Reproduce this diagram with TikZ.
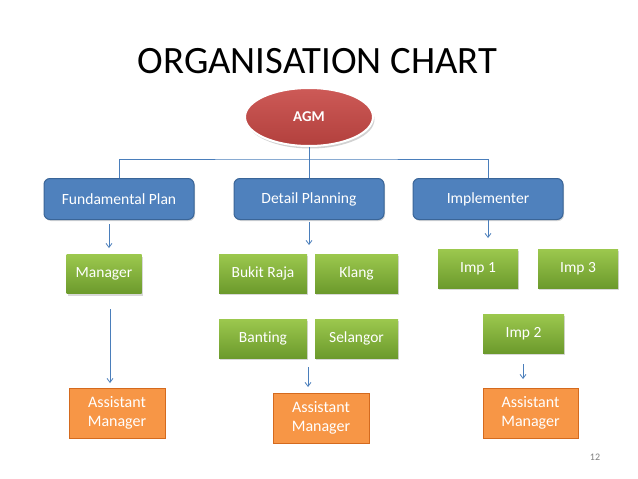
\documentclass[tikz,border=0pt]{standalone}
\usepackage{fontspec}
\setmainfont{Carlito}[Ligatures={NoCommon}]
\usetikzlibrary{shapes.geometric,shadows,arrows.meta}
\definecolor{bluefill}{HTML}{4F81BD}
\definecolor{blueedge}{HTML}{3A6598}
\definecolor{linec}{HTML}{4A7EBB}
\definecolor{greentop}{HTML}{9CC84E}
\definecolor{greenbot}{HTML}{6C9A2C}
\definecolor{orangefill}{HTML}{F79646}
\definecolor{orangeedge}{HTML}{D46A1E}
\definecolor{redtop}{HTML}{CD5A57}
\definecolor{redbot}{HTML}{B2403D}
\begin{document}
\begin{tikzpicture}[x=1pt,y=-1pt,
  bluebox/.style={draw=blueedge,line width=1pt,fill=bluefill,rounded corners=6pt,
    minimum width=150pt,minimum height=41pt,text=white,font=\fontsize{15.6}{18}\selectfont,
    drop shadow={shadow xshift=1pt,shadow yshift=-1.5pt,opacity=0.3}},
  greenbox/.style={top color=greentop,bottom color=greenbot,draw=none,
    minimum height=39pt,text=white,font=\fontsize{15.5}{18}\selectfont,
    drop shadow={shadow xshift=1pt,shadow yshift=-2pt,opacity=0.3}},
  orangebox/.style={draw=orangeedge,line width=1pt,fill=orangefill,minimum width=96pt,
    minimum height=50pt,text=white,align=center,font=\fontsize{16}{19.5}\selectfont},
  conn/.style={draw=linec,line width=0.8pt},
  arr/.style={conn,-{Straight Barb[length=4pt,width=6pt]}}]
\useasboundingbox (0,0) rectangle (638,479);
\fill[white] (0,0) rectangle (638,479);
\node (title) at (317.5,61) {\fontsize{38.7}{42}\selectfont ORGANISATION CHART};
\node[ellipse,draw=white,line width=2pt,top color=redtop,bottom color=redbot,
  minimum width=128pt,minimum height=58pt,text=white,
  font=\fontsize{15}{17}\selectfont\bfseries,
  drop shadow={shadow xshift=1.5pt,shadow yshift=-2.5pt,opacity=0.35}] (agm) at (309,117) {AGM};
\node[bluebox] (fund) at (119,199) {Fundamental Plan};
\node[bluebox] (det) at (309,199) {Detail Planning};
\node[bluebox] (imp) at (488,199) {Implementer};
\coordinate (bus) at (309,159);
\draw[conn] (agm.south) -- (det.north);
\draw[conn] (fund.north) |- (bus) -| (imp.north);
% green
\node[greenbox,minimum width=75pt] (man) at (104,274) {Manager};
\node[greenbox,minimum width=88pt] (bukit) at (263,273.5) {Bukit Raja};
\node[greenbox,minimum width=83pt] (klang) at (356.5,273.5) {Klang};
\node[greenbox,minimum width=88pt] (bant) at (263,338.5) {Banting};
\node[greenbox,minimum width=83pt] (sel) at (356.5,338.5) {Selangor};
\node[greenbox,minimum width=80pt] (imp1) at (478,268.5) {Imp 1};
\node[greenbox,minimum width=80pt] (imp3) at (578,268.5) {Imp 3};
\node[greenbox,minimum width=81pt] (imp2) at (523.5,333.5) {Imp 2};
% orange
\node[orangebox] (am1) at (117,413) {Assistant\\Manager};
\node[orangebox] (am2) at (321,418) {Assistant\\Manager};
\node[orangebox,minimum width=95pt] (am3) at (530.5,413) {Assistant\\Manager};
% arrows
\coordinate (a1s) at (109,224);
\coordinate (a1e) at (109,248);
\draw[arr] (a1s) -- (a1e);
\coordinate (a2s) at (309,222);
\coordinate (a2e) at (309,245);
\draw[arr] (a2s) -- (a2e);
\coordinate (a3e) at (488,238);
\draw[arr] (imp.south -| a3e) -- (a3e);
\coordinate (a4s) at (110,309);
\coordinate (a4e) at (110,383);
\draw[arr] (a4s) -- (a4e);
\coordinate (a5s) at (308,367);
\coordinate (a5e) at (308,387);
\draw[arr] (a5s) -- (a5e);
\coordinate (a6s) at (523,364);
\coordinate (a6e) at (523,379);
\draw[arr] (a6s) -- (a6e);
\node[text=gray,font=\fontsize{10}{12}\selectfont] (pg) at (595,457) {12};
\end{tikzpicture}
\end{document}
